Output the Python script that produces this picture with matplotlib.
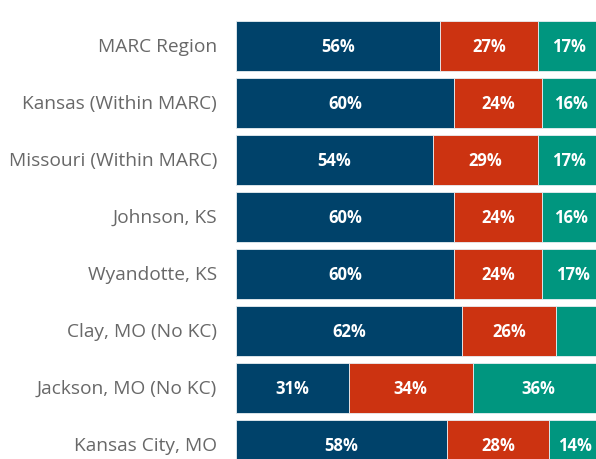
import matplotlib
matplotlib.use("Agg")
import matplotlib.pyplot as plt
import numpy as np

categories = ["MARC Region", "Kansas (Within MARC)", "Missouri (Within MARC)",
              "Johnson, KS", "Wyandotte, KS", "Clay, MO (No KC)",
              "Jackson, MO (No KC)", "Kansas City, MO"]
seg1 = [56, 60, 54, 60, 60, 62, 31, 58]
seg2 = [27, 24, 29, 24, 24, 26, 34, 28]
seg3 = [17, 16, 17, 16, 17, 12, 36, 14]
show3 = [True, True, True, True, True, False, True, True]

colors = ["#00426A", "#CC3311", "#00967F"]

plt.rcParams['font.family'] = ['Open Sans', 'DejaVu Sans']

fig = plt.figure(figsize=(5.96, 4.6), dpi=100)
W, H = 596, 460
ax = fig.add_axes([236 / W, 0, 364 / W, 1])

y = np.arange(len(categories))
h = 50 / 57
left = np.zeros(len(categories))
for vals, c, k in zip([seg1, seg2, seg3], colors, range(3)):
    v = np.array(vals, dtype=float)
    ax.barh(y, v, left=left, height=h, color=c, edgecolor="#E8EEF2", linewidth=0.6)
    for i in range(len(categories)):
        if k == 2 and not show3[i]:
            continue
        ax.text(left[i] + v[i] / 2, y[i], f"{vals[i]}%", ha="center", va="center",
                color="white", fontsize=12, fontweight="bold")
    left += v

ax.set_xlim(0, 100)
ax.set_ylim((H - 47) / 57, -47 / 57)
ax.axis("off")

for i, cat in enumerate(categories):
    ax.text(-5.2, y[i], cat, ha="right", va="center", color="#686868", fontsize=13.8,
            clip_on=False)

fig.savefig("out.png", dpi=100)
